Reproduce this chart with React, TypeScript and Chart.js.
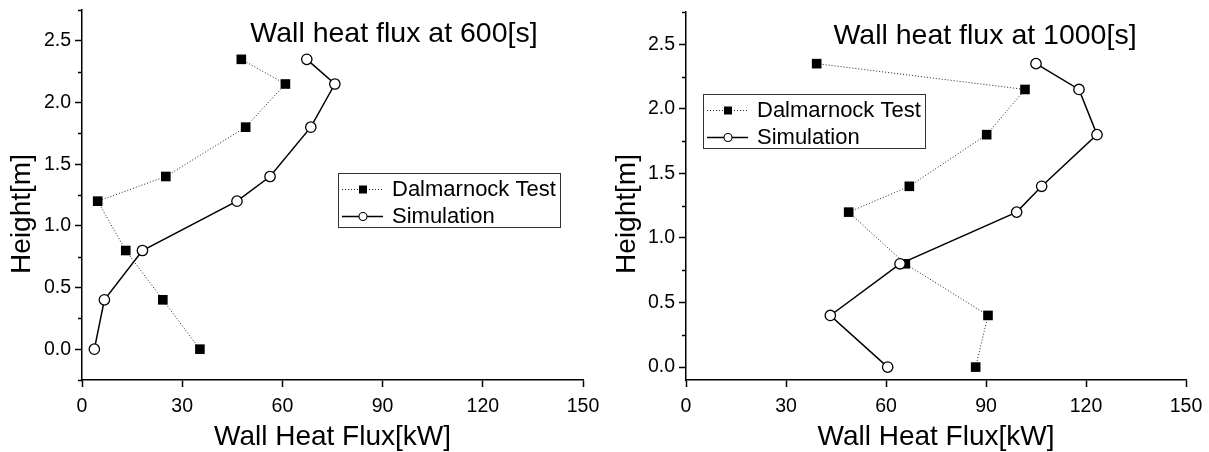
import React, { useEffect, useRef } from 'react';
import { Chart, registerables } from 'chart.js';

Chart.register(...registerables);

// ---- data ----
const heights = [2.35, 2.15, 1.8, 1.4, 1.2, 0.8, 0.4, 0.0];
const test600 = [47.7, 60.9, 49.0, 25.1, 4.7, 13.1, 24.2, 35.3];
const sim600 = [67.3, 75.7, 68.5, 56.3, 46.4, 18.1, 6.7, 3.7];
const test1000 = [39.2, 101.7, 90.2, 67.0, 48.8, 65.8, 90.6, 86.9];
const sim1000 = [105.0, 117.9, 123.3, 106.7, 99.2, 64.2, 43.3, 60.5];
const seriesNames = ['Dalmarnock Test', 'Simulation'];
const panelTitles = ['Wall heat flux at 600[s]', 'Wall heat flux at 1000[s]'];
const xAxisTitle = 'Wall Heat Flux[kW]';
const yAxisTitle = 'Height[m]';
const xTickStep = 30;
const yMinorStep = 0.25;
const yMajorStep = 0.5;
const xRange = [0, 150];
const yRanges = [
  [-0.25, 2.75],
  [-0.1, 2.75],
];

const FONT = '"Liberation Sans", Arial, Helvetica, sans-serif';

type Panel = {
  test: number[];
  sim: number[];
  title: string;
  yMin: number;
  yMax: number;
  padTop: number;
  padRight: number;
  titleX: number;
  titleY: number;
  yTitleX: number;
  yTitleY: number;
  legendX: number;
  legendY: number;
};

const panels: Panel[] = [
  {
    test: test600,
    sim: sim600,
    title: panelTitles[0],
    yMin: yRanges[0][0],
    yMax: yRanges[0][1],
    padTop: 10,
    padRight: 21,
    titleX: 394,
    titleY: 34,
    yTitleX: 22,
    yTitleY: 214,
    legendX: 338,
    legendY: 173,
  },
  {
    test: test1000,
    sim: sim1000,
    title: panelTitles[1],
    yMin: yRanges[1][0],
    yMax: yRanges[1][1],
    padTop: 12,
    padRight: 23,
    titleX: 381,
    titleY: 36,
    yTitleX: 23,
    yTitleY: 214,
    legendX: 99,
    legendY: 94,
  },
];

const isMajor = (v: number) => Math.abs(v / yMajorStep - Math.round(v / yMajorStep)) < 1e-6;

const overlayPlugin = {
  id: 'overlay',
  afterDraw(chart: any, _args: any, opts: any) {
    const ctx: CanvasRenderingContext2D = chart.ctx;
    const ys = chart.scales.y;
    const ca = chart.chartArea;
    ctx.save();
    // minor ticks
    ctx.strokeStyle = '#000';
    ctx.lineWidth = 1.5;
    ys.ticks.forEach((t: any) => {
      if (!isMajor(t.value)) {
        const py = Math.round(ys.getPixelForValue(t.value)) + 0.5;
        ctx.beginPath();
        ctx.moveTo(ca.left - 4, py);
        ctx.lineTo(ca.left, py);
        ctx.stroke();
      }
    });
    // panel title
    ctx.fillStyle = '#000';
    ctx.font = `28.5px ${FONT}`;
    ctx.textAlign = 'center';
    ctx.textBaseline = 'middle';
    ctx.fillText(opts.title, opts.titleX, opts.titleY);
    // y axis title
    ctx.font = `28px ${FONT}`;
    ctx.save();
    ctx.translate(opts.yTitleX, opts.yTitleY);
    ctx.rotate(-Math.PI / 2);
    ctx.fillText(yAxisTitle, 0, 0);
    ctx.restore();
    // legend
    const lx = opts.legendX;
    const ly = opts.legendY;
    const w = 222;
    const h = 54;
    ctx.strokeStyle = '#333';
    ctx.lineWidth = 1;
    ctx.strokeRect(lx + 0.5, ly + 0.5, w, h);
    const rows = [ly + 16, ly + 43];
    ctx.font = `22px ${FONT}`;
    ctx.textAlign = 'left';
    // row 1: dotted + square
    ctx.strokeStyle = '#222';
    ctx.setLineDash([1, 2]);
    ctx.beginPath();
    ctx.moveTo(lx + 4, rows[0] + 0.5);
    ctx.lineTo(lx + 45, rows[0] + 0.5);
    ctx.stroke();
    ctx.setLineDash([]);
    ctx.fillStyle = '#000';
    ctx.fillRect(lx + 25 - 4, rows[0] - 3.5, 8, 8);
    ctx.fillText(seriesNames[0], lx + 54, rows[0] + 1);
    // row 2: solid + circle
    ctx.strokeStyle = '#000';
    ctx.lineWidth = 1.5;
    ctx.beginPath();
    ctx.moveTo(lx + 4, rows[1] + 0.5);
    ctx.lineTo(lx + 45, rows[1] + 0.5);
    ctx.stroke();
    ctx.beginPath();
    ctx.arc(lx + 25, rows[1] + 0.5, 4, 0, Math.PI * 2);
    ctx.fillStyle = '#fff';
    ctx.fill();
    ctx.lineWidth = 1.1;
    ctx.stroke();
    ctx.fillStyle = '#000';
    ctx.fillText(seriesNames[1], lx + 54, rows[1] + 1);
    ctx.restore();
  },
};

function makeConfig(p: Panel): any {
  return {
    type: 'scatter',
    data: {
      datasets: [
        {
          label: seriesNames[0],
          data: heights.map((h, i) => ({ x: p.test[i], y: h })),
          showLine: true,
          borderColor: '#222',
          borderWidth: 1,
          borderDash: [1, 2],
          tension: 0,
          pointStyle: 'rect',
          pointRadius: 6.8,
          pointBackgroundColor: '#000',
          pointBorderColor: '#000',
          pointBorderWidth: 0,
          order: 1,
        },
        {
          label: seriesNames[1],
          data: heights.map((h, i) => ({ x: p.sim[i], y: h })),
          showLine: true,
          borderColor: '#000',
          borderWidth: 1.5,
          tension: 0,
          pointStyle: 'circle',
          pointRadius: 5.2,
          pointBackgroundColor: '#fff',
          pointBorderColor: '#000',
          pointBorderWidth: 1.3,
          order: 0,
        },
      ],
    },
    options: {
      animation: false,
      responsive: false,
      devicePixelRatio: 1,
      layout: { padding: { top: p.padTop, right: p.padRight, left: 0, bottom: 0 } },
      plugins: {
        legend: { display: false },
        tooltip: { enabled: false },
        overlay: {
          title: p.title,
          titleX: p.titleX,
          titleY: p.titleY,
          yTitleX: p.yTitleX,
          yTitleY: p.yTitleY,
          legendX: p.legendX,
          legendY: p.legendY,
        },
      },
      scales: {
        x: {
          type: 'linear',
          min: xRange[0],
          max: xRange[1],
          afterFit: (s: any) => {
            s.height = 72;
            s.paddingLeft = 0;
            s.paddingRight = 0;
          },
          border: { display: true, color: '#000', width: 1.5 },
          grid: {
            drawOnChartArea: false,
            drawTicks: true,
            tickLength: 7,
            tickColor: '#000',
            tickWidth: 1.5,
          },
          ticks: {
            stepSize: xTickStep,
            autoSkip: false,
            maxRotation: 0,
            padding: 8,
            color: '#000',
            font: { family: FONT, size: 19.5 },
          },
          title: {
            display: true,
            text: xAxisTitle,
            color: '#000',
            font: { family: FONT, size: 28, lineHeight: 1.1 },
            padding: { top: 0, bottom: -1 },
          },
        },
        y: {
          type: 'linear',
          min: p.yMin,
          max: p.yMax,
          afterFit: (s: any) => {
            s.width = 82;
            s.paddingTop = 0;
            s.paddingBottom = 0;
          },
          afterBuildTicks: (s: any) => {
            const out: any[] = [];
            const k0 = Math.ceil(s.min / yMinorStep - 1e-9);
            const k1 = Math.floor(s.max / yMinorStep + 1e-9);
            for (let k = k0; k <= k1; k++) out.push({ value: Math.round(k * yMinorStep * 100) / 100 });
            s.ticks = out;
          },
          border: { display: true, color: '#000', width: 1.5 },
          grid: {
            drawOnChartArea: false,
            drawTicks: true,
            tickLength: 7,
            tickWidth: 1.5,
            tickColor: (c: any) => (c.tick && isMajor(c.tick.value) ? '#000' : 'rgba(0,0,0,0)'),
          },
          ticks: {
            stepSize: yMinorStep,
            autoSkip: false,
            padding: 4,
            color: '#000',
            font: { family: FONT, size: 19.5 },
            callback: (v: any) => (isMajor(Number(v)) ? Number(v).toFixed(1) : ''),
          },
          title: { display: false },
        },
      },
    },
    plugins: [overlayPlugin],
  };
}

function PanelChart({ p, left, width }: { p: Panel; left: number; width: number }) {
  const ref = useRef<HTMLCanvasElement>(null);
  useEffect(() => {
    if (!ref.current) return;
    const chart = new Chart(ref.current, makeConfig(p));
    return () => chart.destroy();
  }, [p]);
  return (
    <canvas
      ref={ref}
      width={width}
      height={452}
      style={{ position: 'absolute', left, top: 0, width, height: 452 }}
    />
  );
}

export default function App() {
  return (
    <div
      style={{
        position: 'fixed',
        left: 0,
        top: 0,
        width: 1209,
        height: 452,
        background: '#fff',
        overflow: 'hidden',
      }}
    >
      <PanelChart p={panels[0]} left={0} width={604} />
      <PanelChart p={panels[1]} left={604} width={605} />
    </div>
  );
}
